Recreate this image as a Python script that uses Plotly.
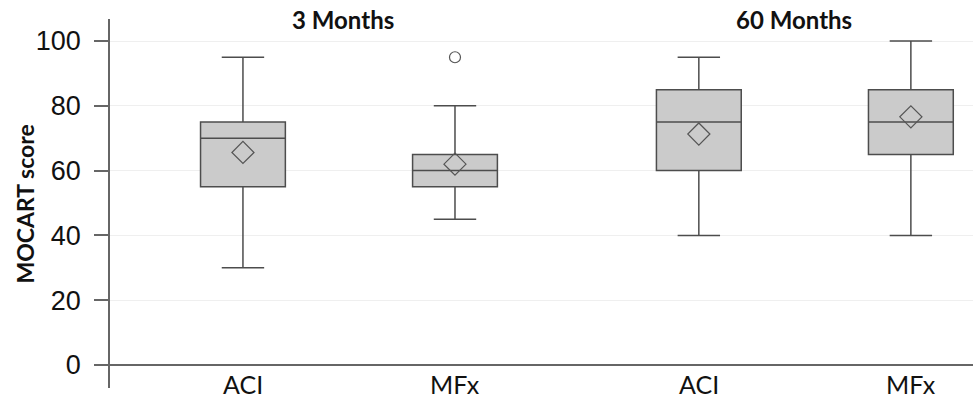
import plotly.graph_objects as go

# ---- data ----
labels = ["ACI", "MFx", "ACI", "MFx"]
positions = [0, 1, 2.15, 3.15]
q1 = [55, 55, 60, 65]
median = [70, 60, 75, 75]
q3 = [75, 65, 85, 85]
lower = [30, 45, 40, 40]
upper = [95, 80, 95, 100]
means = [65.6, 62, 71.3, 76.6]
outlier_pos = [1]
outlier_val = [95]
groups = ["3 Months", "60 Months"]
group_pos = [0.47, 2.6]
yticks = [0, 20, 40, 60, 80, 100]

fill = "#cbcbcb"
edge = "#4d4d4d"

fig = go.Figure()
for i in range(len(labels)):
    fig.add_trace(go.Box(
        x=[positions[i]], q1=[q1[i]], median=[median[i]], q3=[q3[i]],
        lowerfence=[lower[i]], upperfence=[upper[i]],
        width=0.4, whiskerwidth=0.5,
        fillcolor=fill, line=dict(color=edge, width=1.5),
        boxpoints=False, showlegend=False, hoverinfo="skip",
    ))

fig.add_trace(go.Scatter(
    x=positions, y=means, mode="markers",
    marker=dict(symbol="diamond-open", size=17, color="#555555", line=dict(width=1.2)),
    showlegend=False, cliponaxis=False,
))
fig.add_trace(go.Scatter(
    x=outlier_pos, y=outlier_val, mode="markers",
    marker=dict(symbol="circle-open", size=11, color="#555555", line=dict(width=1.2)),
    showlegend=False,
))

for lab, p in zip(labels, positions):
    fig.add_annotation(x=p, y=0, xref="x", yref="paper", text=lab, showarrow=False,
                       yanchor="bottom", yshift=-13,
                       font=dict(family="Lato", size=25, color="#111111"))

for g, p in zip(groups, group_pos):
    fig.add_annotation(x=p, y=1, xref="x", yref="paper", text="<b>%s</b>" % g,
                       showarrow=False, yanchor="middle", yshift=0,
                       font=dict(family="Lato", size=24, color="#111111"))

fig.add_annotation(x=-0.0985, y=0.5, xref="paper", yref="paper",
                   text="<b>MOCART score</b>", textangle=-90, showarrow=False,
                   xanchor="center", yanchor="middle",
                   font=dict(family="Lato", size=23, color="#111111"))

fig.update_layout(
    width=973, height=401,
    margin=dict(l=110, r=0, t=19, b=13),
    paper_bgcolor="white", plot_bgcolor="white",
    xaxis=dict(range=[-0.627, 3.443], showticklabels=False, showgrid=False,
               zeroline=False, showline=False, ticks=""),
    yaxis=dict(range=[-7.1, 106.8], tickvals=yticks, ticks="outside", ticklen=14,
               tickcolor="#666666", tickwidth=1.5, ticklabelstandoff=8,
               showline=True, linecolor="#666666", linewidth=1.5,
               showgrid=True, gridcolor="#efefef", gridwidth=1,
               zeroline=True, zerolinecolor="#666666", zerolinewidth=1.5,
               tickfont=dict(family="Liberation Sans", size=27, color="#111111")),
)

fig.write_html("out.html", config={"displayModeBar": False},
               post_script="document.body.style.margin='0';document.body.style.overflow='hidden';")
